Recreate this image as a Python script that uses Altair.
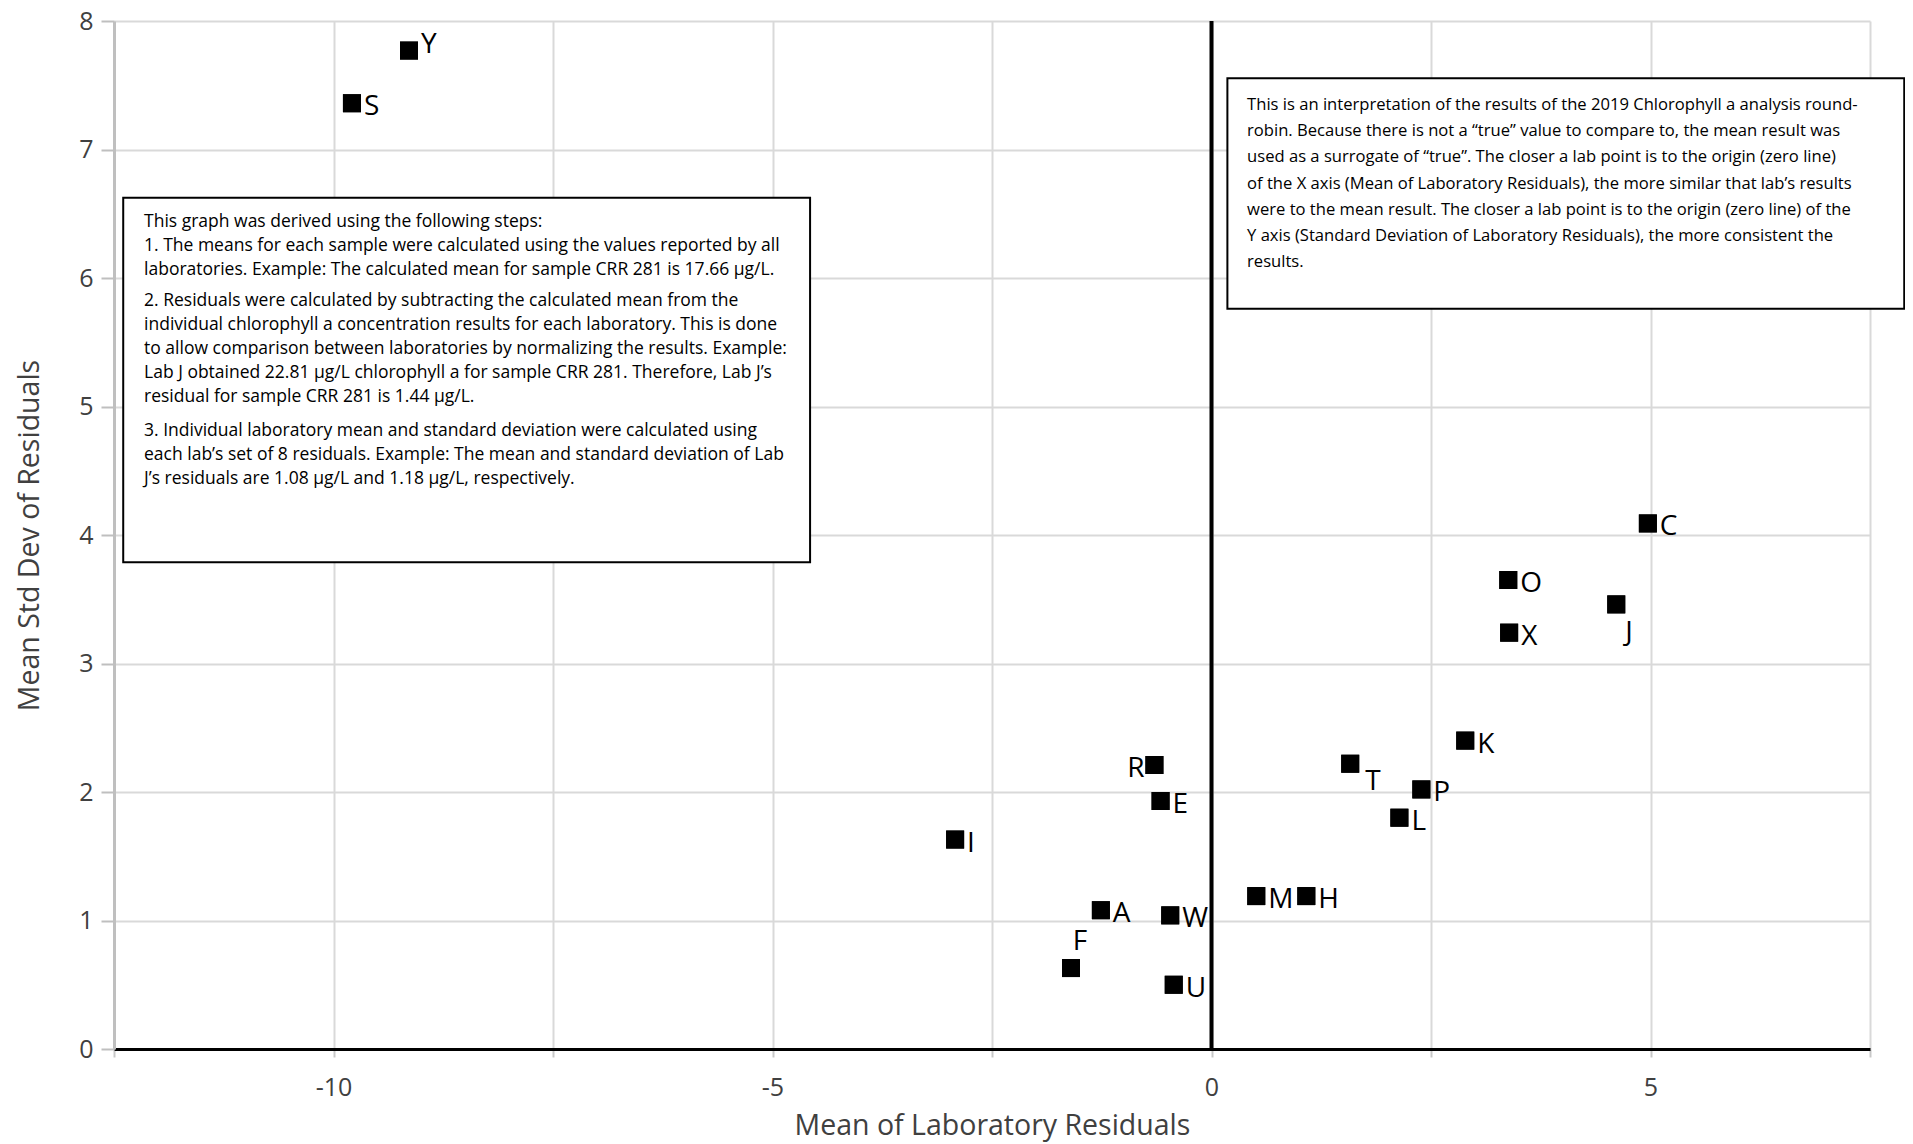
import altair as alt
import pandas as pd

# ---- data ----
labs = ["Y", "S", "C", "O", "J", "X", "K", "R", "T", "P", "E", "L", "I", "M", "H", "A", "W", "F", "U"]
mean_resid = [-9.14, -9.79, 4.97, 3.38, 4.61, 3.39, 2.89, -0.65, 1.58, 2.39, -0.58, 2.14, -2.92, 0.51, 1.08, -1.26, -0.47, -1.60, -0.43]
std_resid = [7.77, 7.36, 4.09, 3.65, 3.46, 3.24, 2.40, 2.21, 2.22, 2.02, 1.93, 1.80, 1.63, 1.19, 1.19, 1.08, 1.04, 0.63, 0.50]
label_side = ["upper-right", "right", "right", "right", "below", "right", "right", "left", "lower-right",
              "right", "right", "right", "right", "right", "right", "right", "right", "above", "right"]

x_ticks = [-12.5, -10, -7.5, -5, -2.5, 0, 2.5, 5, 7.5]
y_ticks = [0, 1, 2, 3, 4, 5, 6, 7, 8]
zero_line = [0]

# annotation boxes (data units)
box_x = [-12.395, 0.181]
box_x2 = [-4.572, 7.89]
box_y = [6.624, 7.554]
box_y2 = [3.787, 5.760]

left_p1 = ["This graph was derived using the following steps:",
           "1. The means for each sample were calculated using the values reported by all",
           "laboratories. Example: The calculated mean for sample CRR 281 is 17.66 µg/L."]
left_p2 = ["2. Residuals were calculated by subtracting the calculated mean from the",
           "individual chlorophyll a concentration results for each laboratory. This is done",
           "to allow comparison between laboratories by normalizing the results. Example:",
           "Lab J obtained 22.81 µg/L chlorophyll a for sample CRR 281. Therefore, Lab J’s",
           "residual for sample CRR 281 is 1.44 µg/L."]
left_p3 = ["3. Individual laboratory mean and standard deviation were calculated using",
           "each lab’s set of 8 residuals. Example: The mean and standard deviation of Lab",
           "J’s residuals are 1.08 µg/L and 1.18 µg/L, respectively."]
right_text = ["This is an interpretation of the results of the 2019 Chlorophyll a analysis round-",
              "robin. Because there is not a “true” value to compare to, the mean result was",
              "used as a surrogate of “true”. The closer a lab point is to the origin (zero line)",
              "of the X axis (Mean of Laboratory Residuals), the more similar that lab’s results",
              "were to the mean result. The closer a lab point is to the origin (zero line) of the",
              "Y axis (Standard Deviation of Laboratory Residuals), the more consistent the",
              "results."]
left_text_x = [-12.158, -12.158, -12.158]
left_text_y = [6.528, 5.911, 4.904]
right_text_x = [0.405]
right_text_y = [7.447]

# ---- styles ----
AXIS_FONT = "Open Sans"
BOX_FONT = "Open Sans"
label_style = {
    "right": dict(dx=12, dy=4, align="left"),
    "upper-right": dict(dx=12, dy=-6, align="left"),
    "below": dict(dx=9, dy=29, align="left"),
    "lower-right": dict(dx=15, dy=18, align="left"),
    "left": dict(dx=-10, dy=4, align="right"),
    "above": dict(dx=9, dy=-26, align="center"),
}

pts = pd.DataFrame({"lab": labs, "mx": mean_resid, "sd": std_resid, "side": label_side})
xscale = alt.Scale(domain=[-12.5, 7.5], nice=False, zero=False)
yscale = alt.Scale(domain=[0, 8], nice=False)

x_axis = alt.Axis(
    values=x_ticks, labelExpr="datum.value % 5 == 0 ? toString(datum.value) : ''",
    grid=True, gridColor="#d9d9d9", gridWidth=2,
    domain=True, domainColor="#000000", domainWidth=3,
    ticks=True, tickColor="#c8c8c8", tickWidth=2, tickSize=8,
    labelFont=AXIS_FONT, labelFontSize=25, labelColor="#404040", labelPadding=18,
    title="Mean of Laboratory Residuals", titleFont=AXIS_FONT, titleFontSize=28.5,
    titleFontWeight="normal", titleColor="#404040", titlePadding=11,
)
y_axis = alt.Axis(
    values=y_ticks, format="d",
    grid=True, gridColor="#d9d9d9", gridWidth=2,
    domain=True, domainColor="#bfbfbf", domainWidth=3,
    ticks=True, tickColor="#bfbfbf", tickWidth=2, tickSize=13,
    labelFont=AXIS_FONT, labelFontSize=25, labelColor="#404040", labelPadding=8,
    title="Mean Std Dev of Residuals", titleFont=AXIS_FONT, titleFontSize=28.5,
    titleFontWeight="normal", titleColor="#404040", titlePadding=34,
)

base_pts = alt.Chart(pts)

points = base_pts.mark_point(shape="square", filled=True, size=324, color="#000000", opacity=1).encode(
    x=alt.X("mx:Q", scale=xscale, axis=x_axis),
    y=alt.Y("sd:Q", scale=yscale, axis=y_axis),
)

label_layers = []
for side, st in label_style.items():
    label_layers.append(
        base_pts.transform_filter(alt.datum.side == side).mark_text(
            font=AXIS_FONT, fontSize=28, color="#000000", baseline="middle",
            align=st["align"], dx=st["dx"], dy=st["dy"],
        ).encode(x=alt.X("mx:Q", scale=xscale), y=alt.Y("sd:Q", scale=yscale), text="lab:N")
    )

vline = alt.Chart(pd.DataFrame({"x0": zero_line})).mark_rule(color="#000000", strokeWidth=4).encode(
    x=alt.X("x0:Q", scale=xscale)
)

boxes = alt.Chart(pd.DataFrame({"x": box_x, "x2": box_x2, "y": box_y, "y2": box_y2})).mark_rect(
    fill="#ffffff", stroke="#000000", strokeWidth=2, clip=False
).encode(
    x=alt.X("x:Q", scale=xscale), x2="x2:Q", y=alt.Y("y:Q", scale=yscale), y2="y2:Q"
)

left_txt = alt.Chart(pd.DataFrame({"x": left_text_x, "y": left_text_y,
                                   "t": [left_p1, left_p2, left_p3]})).mark_text(
    font=BOX_FONT, fontSize=17.5, color="#000000", align="left", baseline="line-top", lineHeight=24
).encode(x=alt.X("x:Q", scale=xscale), y=alt.Y("y:Q", scale=yscale), text="t")

right_txt = alt.Chart(pd.DataFrame({"x": right_text_x, "y": right_text_y,
                                    "t": [right_text]})).mark_text(
    font=BOX_FONT, fontSize=16.6, color="#000000", align="left", baseline="line-top", lineHeight=26.2
).encode(x=alt.X("x:Q", scale=xscale), y=alt.Y("y:Q", scale=yscale), text="t")

chart = alt.layer(points, vline, boxes, left_txt, right_txt, *label_layers, points).properties(
    width=1756, height=1028,
    padding={"left": 106, "top": 13, "right": 35, "bottom": 93},
    autosize=alt.AutoSizeParams(type="none"),
).configure_view(stroke=None)

chart.save("out.html", embed_options={"renderer": "svg", "actions": False})
